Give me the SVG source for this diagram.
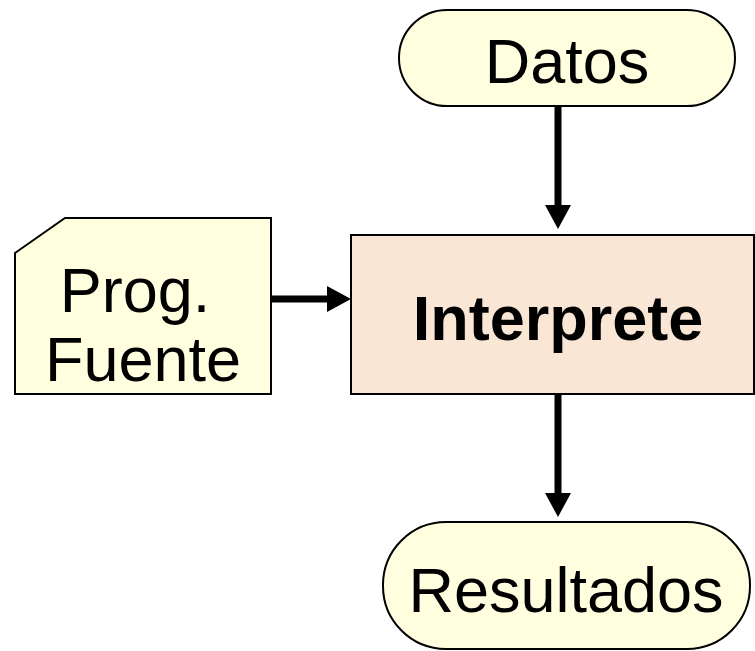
<svg xmlns="http://www.w3.org/2000/svg" width="755" height="651" viewBox="0 0 755 651">
<defs>
<style>
.node{stroke:#000;stroke-width:2}
.yel{fill:#FFFFE0}
.peach{fill:#FAE6D4}
.t{font-family:"Liberation Sans",Arial,sans-serif;font-size:63px;fill:#000;text-anchor:middle}
.b{font-weight:bold}
.conn{stroke:#000;stroke-width:7;fill:none}
</style>
<marker id="ah" markerUnits="userSpaceOnUse" markerWidth="24" markerHeight="26" viewBox="0 0 24 26" refX="0" refY="13" orient="auto">
<path d="M0,0 L24,13 L0,26 Z" fill="#000"/>
</marker>
</defs>
<rect width="755" height="651" fill="#fff"/>
<g id="connectors">
<line class="conn" x1="558" y1="106" x2="558" y2="205" marker-end="url(#ah)"/>
<line class="conn" x1="271" y1="299" x2="327" y2="299" marker-end="url(#ah)"/>
<line class="conn" x1="558" y1="394" x2="558" y2="493" marker-end="url(#ah)"/>
</g>
<g id="datos">
<rect class="node yel" x="399" y="10" width="336" height="96" rx="48" ry="48"/>
<text class="t" x="567" y="83">Datos</text>
</g>
<g id="prog-fuente">
<path class="node yel" d="M15,253 L65,218 L271,218 L271,394 L15,394 Z"/>
<text class="t" x="135" y="312">Prog.</text>
<text class="t" x="143" y="381">Fuente</text>
</g>
<g id="interprete">
<rect class="node peach" x="351" y="235" width="403" height="159"/>
<text class="t b" x="558" y="340">Interprete</text>
</g>
<g id="resultados">
<rect class="node yel" x="383" y="522" width="367" height="127" rx="63" ry="63"/>
<text class="t" x="566" y="612">Resultados</text>
</g>
</svg>
